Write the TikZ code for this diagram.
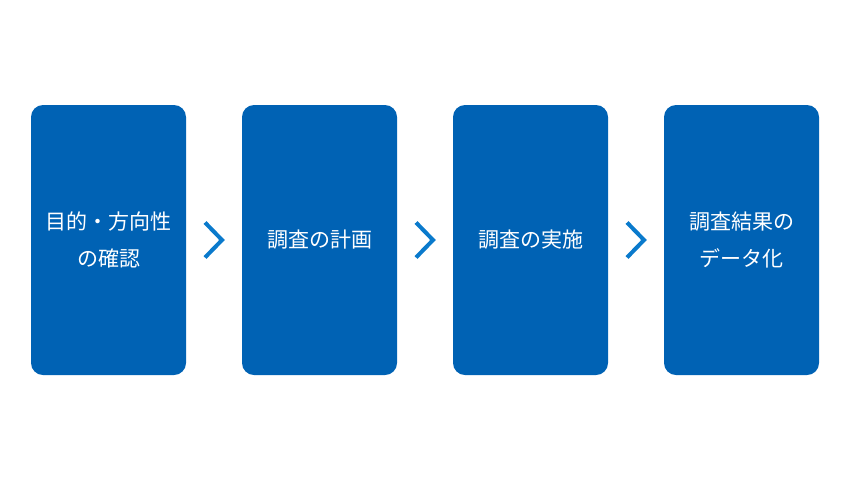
\documentclass[tikz,border=0pt]{standalone}
\usepackage{fontspec}
\setmainfont{Noto Sans CJK JP}
\usepackage{tikz}
\usetikzlibrary{positioning, calc}
\definecolor{boxblue}{HTML}{0062B4}
\definecolor{chevblue}{HTML}{0A7ACC}

\begin{document}
\begin{tikzpicture}[
  every node/.style={font=\fontsize{21}{37}\selectfont, text=white},
  stepbox/.style={
    fill=boxblue,
    rounded corners=12pt,
    minimum width=155pt,
    minimum height=270pt,
    align=center,
    inner sep=0pt,
    outer sep=0pt,
    execute at begin node={\vspace*{-4pt}},
  },
  chevron/.style={
    draw=chevblue,
    line width=4pt,
    line join=miter,
  },
]
  \useasboundingbox (0,0) rectangle (850pt,-480pt);

  \node[stepbox] (purpose) at (108.5pt,-240pt) {目的・方向性\\の確認};
  \node[stepbox, right=56pt of purpose] (plan) {調査の計画};
  \node[stepbox, right=56pt of plan] (survey) {調査の実施};
  \node[stepbox, right=56pt of survey] (data) {調査結果の\\データ化};

  \coordinate (gap1) at ($(purpose.east)!0.5!(plan.west)$);
  \coordinate (gap2) at ($(plan.east)!0.5!(survey.west)$);
  \coordinate (gap3) at ($(survey.east)!0.5!(data.west)$);

  \foreach \g in {gap1, gap2, gap3}
    \draw[chevron] ([shift={(-9pt,17.5pt)}]\g) -- ([shift={(8pt,0pt)}]\g) -- ([shift={(-9pt,-17.5pt)}]\g);
\end{tikzpicture}
\end{document}
